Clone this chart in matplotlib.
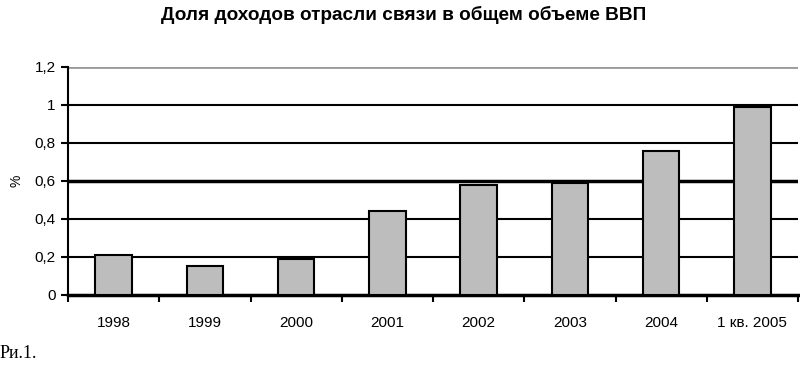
import matplotlib
matplotlib.use("Agg")
import matplotlib.pyplot as plt
import numpy as np

plt.rcParams["font.family"] = ["Liberation Sans", "DejaVu Sans"]

# данные
periods = ["1998", "1999", "2000", "2001", "2002", "2003", "2004", "1 кв. 2005"]
share = [0.21, 0.15, 0.19, 0.44, 0.58, 0.59, 0.76, 0.99]
yticks = [0, 0.2, 0.4, 0.6, 0.8, 1.0, 1.2]
ylabels = ["0", "0,2", "0,4", "0,6", "0,8", "1", "1,2"]

fig = plt.figure(figsize=(8, 3.66), dpi=100)
ax = fig.add_axes([0.085, 0.194, 0.9125, 0.623])

x = np.arange(len(periods))
ax.bar(x, share, width=0.4, color="#bdbdbd", edgecolor="black", linewidth=1.5, zorder=3)

ax.set_xlim(-0.5, len(periods) - 0.5)
ax.set_ylim(0, 1.2)
ax.set_yticks(yticks)
ax.set_yticklabels(ylabels)
for v in yticks[1:-1]:
    ax.axhline(v, color="black", lw=2.5 if abs(v - 0.6) < 1e-9 else 1.5, zorder=1)
ax.axhline(1.2, color="#999999", lw=2, zorder=1)

ax.set_xticks(x)
ax.set_xticklabels(periods)
ax.set_xticks(np.arange(len(periods) + 1) - 0.5, minor=True)
ax.tick_params(axis="x", which="major", length=0, pad=15, labelsize=11)
ax.tick_params(axis="x", which="minor", length=5, width=1.5, direction="out")
ax.tick_params(axis="y", length=5, width=1.5, labelsize=11, pad=4)

for s in ["top", "right"]:
    ax.spines[s].set_visible(False)
ax.spines["left"].set_linewidth(1.5)
ax.spines["bottom"].set_linewidth(2.5)

ax.set_ylabel("%", fontsize=10, labelpad=8)

fig.text(0.505, 0.96, "Доля доходов отрасли связи в общем объеме ВВП",
         ha="center", va="center", fontsize=13.7, fontweight="bold")
fig.text(0.0, 0.035, "Ри.1.", ha="left", va="center", fontsize=13,
         family=["Liberation Serif", "DejaVu Serif"])

fig.savefig("out.png", dpi=100)
